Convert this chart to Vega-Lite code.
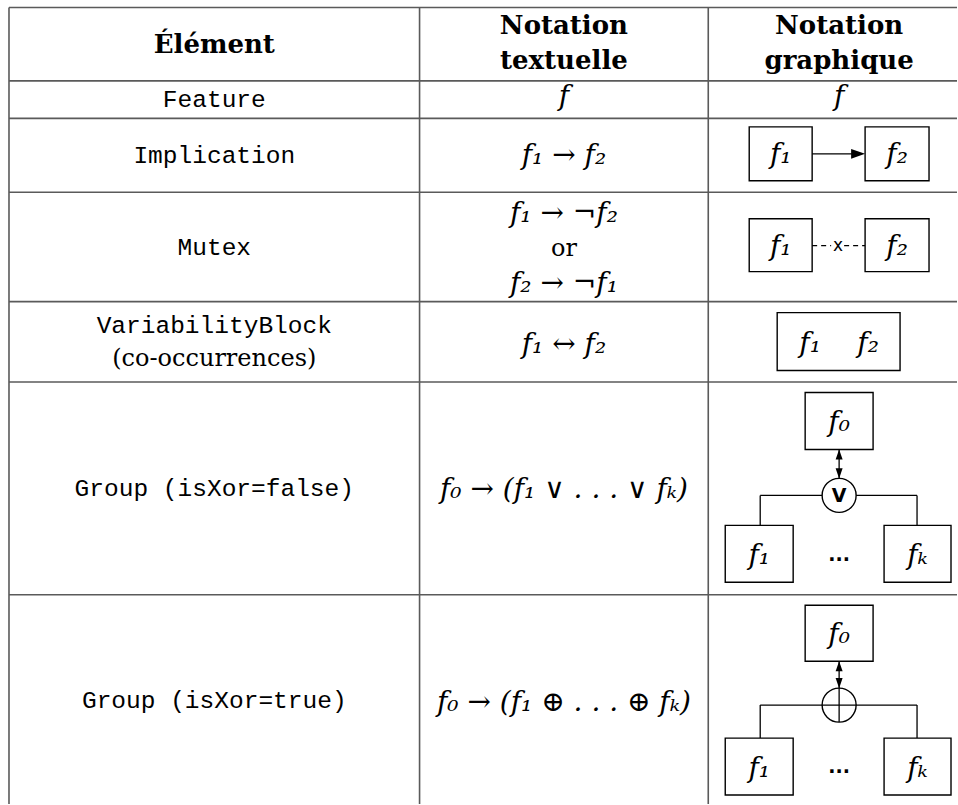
{
  "$schema": "https://vega.github.io/schema/vega-lite/v6.json",
  "width": 958,
  "height": 805,
  "autosize": {"type": "fit", "contains": "padding"},
  "padding": 0,
  "background": "white",
  "config": {"view": {"stroke": null}},
  "datasets": {
    "grid": [
      {"x": 9, "y": 7.5, "x2": 958, "y2": 7.5},
      {"x": 9, "y": 81, "x2": 958, "y2": 81},
      {"x": 9, "y": 118.5, "x2": 958, "y2": 118.5},
      {"x": 9, "y": 192.5, "x2": 958, "y2": 192.5},
      {"x": 9, "y": 302, "x2": 958, "y2": 302},
      {"x": 9, "y": 382.5, "x2": 958, "y2": 382.5},
      {"x": 9, "y": 595.5, "x2": 958, "y2": 595.5},
      {"x": 9, "y": 7.5, "x2": 9, "y2": 805},
      {"x": 420, "y": 7.5, "x2": 420, "y2": 805},
      {"x": 709, "y": 7.5, "x2": 709, "y2": 805}
    ],
    "boxes": [
      {"x": 750, "x2": 813, "y": 127, "y2": 181},
      {"x": 866, "x2": 930, "y": 127, "y2": 181},
      {"x": 750, "x2": 813, "y": 219, "y2": 272},
      {"x": 866, "x2": 930, "y": 219, "y2": 272},
      {"x": 778, "x2": 901, "y": 313, "y2": 371},
      {"x": 806, "x2": 874, "y": 393, "y2": 450},
      {"x": 726, "x2": 794, "y": 526, "y2": 583},
      {"x": 885, "x2": 952, "y": 526, "y2": 583},
      {"x": 806, "x2": 874, "y": 606, "y2": 662},
      {"x": 726, "x2": 794, "y": 739, "y2": 796},
      {"x": 885, "x2": 952, "y": 739, "y2": 796}
    ],
    "links": [
      {"x": 813, "y": 154, "x2": 853, "y2": 154, "style": "solid"},
      {"x": 813, "y": 246, "x2": 832, "y2": 246, "style": "dashed"},
      {"x": 845, "y": 246, "x2": 866, "y2": 246, "style": "dashed"},
      {"x": 840, "y": 450, "x2": 840, "y2": 479, "style": "solid"},
      {"x": 761, "y": 496, "x2": 823, "y2": 496, "style": "solid"},
      {"x": 857, "y": 496, "x2": 918, "y2": 496, "style": "solid"},
      {"x": 761, "y": 496, "x2": 761, "y2": 526, "style": "solid"},
      {"x": 918, "y": 496, "x2": 918, "y2": 526, "style": "solid"},
      {"x": 840, "y": 662, "x2": 840, "y2": 723, "style": "solid"},
      {"x": 761, "y": 706, "x2": 918, "y2": 706, "style": "solid"},
      {"x": 761, "y": 706, "x2": 761, "y2": 739, "style": "solid"},
      {"x": 918, "y": 706, "x2": 918, "y2": 739, "style": "solid"}
    ],
    "circles": [
      {"x": 840, "y": 496},
      {"x": 840, "y": 706}
    ],
    "arrows": [
      {"x": 859, "y": 154, "dir": "right"},
      {"x": 840, "y": 455, "dir": "up"},
      {"x": 840, "y": 474, "dir": "down"},
      {"x": 840, "y": 667, "dir": "up"},
      {"x": 840, "y": 684, "dir": "down"}
    ],
    "header": [
      {"x": 214.5, "y": 53, "text": "Élément"},
      {"x": 564.5, "y": 34, "text": "Notation"},
      {"x": 564.5, "y": 69, "text": "textuelle"},
      {"x": 840, "y": 34, "text": "Notation"},
      {"x": 840, "y": 69, "text": "graphique"}
    ],
    "tt": [
      {"x": 214.5, "y": 107, "text": "Feature"},
      {"x": 214.5, "y": 163, "text": "Implication"},
      {"x": 214.5, "y": 255, "text": "Mutex"},
      {"x": 214.5, "y": 333, "text": "VariabilityBlock"},
      {"x": 214.5, "y": 497, "text": "Group (isXor=false)"},
      {"x": 214.5, "y": 709, "text": "Group (isXor=true)"}
    ],
    "roman": [
      {"x": 214.5, "y": 366, "text": "(co-occurrences)"},
      {"x": 564.5, "y": 256, "text": "or"}
    ],
    "math": [
      {"x": 564.5, "y": 105, "text": "f"},
      {"x": 840, "y": 105, "text": "f"},
      {"x": 564.5, "y": 164, "text": "f₁ → f₂"},
      {"x": 564.5, "y": 222, "text": "f₁ → ¬f₂"},
      {"x": 564.5, "y": 292, "text": "f₂ → ¬f₁"},
      {"x": 564.5, "y": 353, "text": "f₁ ↔ f₂"},
      {"x": 564.5, "y": 499, "text": "f₀ → (f₁ ∨ . . . ∨ fₖ)"},
      {"x": 564.5, "y": 712, "text": "f₀ → (f₁ ⊕ . . . ⊕ fₖ)"}
    ],
    "boxlabels": [
      {"x": 781.5, "y": 163, "text": "f₁"},
      {"x": 898, "y": 163, "text": "f₂"},
      {"x": 781.5, "y": 255, "text": "f₁"},
      {"x": 898, "y": 255, "text": "f₂"},
      {"x": 811, "y": 352, "text": "f₁"},
      {"x": 869, "y": 352, "text": "f₂"},
      {"x": 840, "y": 432, "text": "f₀"},
      {"x": 760, "y": 565, "text": "f₁"},
      {"x": 918.5, "y": 565, "text": "fₖ"},
      {"x": 840, "y": 644, "text": "f₀"},
      {"x": 760, "y": 778, "text": "f₁"},
      {"x": 918.5, "y": 778, "text": "fₖ"}
    ],
    "symbols": [
      {"x": 839, "y": 246, "text": "x", "kind": "cross"},
      {"x": 840, "y": 497, "text": "V", "kind": "or"},
      {"x": 840, "y": 556, "text": "...", "kind": "dots"},
      {"x": 840, "y": 768, "text": "...", "kind": "dots"}
    ]
  },
  "encoding": {
    "x": {"field": "x", "type": "quantitative", "scale": {"domain": [0, 958], "nice": false, "zero": false}, "axis": null},
    "y": {"field": "y", "type": "quantitative", "scale": {"domain": [0, 805], "nice": false, "zero": false, "reverse": true}, "axis": null}
  },
  "layer": [
    {
      "data": {"name": "grid"},
      "mark": {"type": "rule", "color": "#5a5a5a", "strokeWidth": 1.6},
      "encoding": {"x2": {"field": "x2"}, "y2": {"field": "y2"}}
    },
    {
      "data": {"name": "boxes"},
      "mark": {"type": "rect", "fill": "white", "stroke": "black", "strokeWidth": 1.4},
      "encoding": {"x2": {"field": "x2"}, "y2": {"field": "y2"}}
    },
    {
      "data": {"name": "links"},
      "mark": {"type": "rule", "color": "black", "strokeWidth": 1.3},
      "encoding": {
        "x2": {"field": "x2"},
        "y2": {"field": "y2"},
        "strokeDash": {"field": "style", "type": "nominal", "scale": {"domain": ["solid", "dashed"], "range": [[1, 0], [5, 4]]}, "legend": null}
      }
    },
    {
      "data": {"name": "circles"},
      "mark": {"type": "point", "shape": "circle", "filled": false, "stroke": "black", "strokeWidth": 1.4, "size": 1156, "opacity": 1},
      "encoding": {}
    },
    {
      "data": {"name": "arrows"},
      "mark": {"type": "point", "filled": true, "color": "black", "size": 196, "opacity": 1},
      "encoding": {
        "shape": {"field": "dir", "type": "nominal", "scale": {"domain": ["right", "up", "down"], "range": ["M1,0L-1,-0.7L-1,0.7Z", "M0,-0.72L-0.5,0.72L0.5,0.72Z", "M0,0.72L-0.5,-0.72L0.5,-0.72Z"]}, "legend": null}
      }
    },
    {
      "data": {"name": "header"},
      "mark": {"type": "text", "font": "DejaVu Serif", "fontWeight": "bold", "fontSize": 26, "align": "center", "baseline": "alphabetic", "color": "black"},
      "encoding": {"text": {"field": "text"}}
    },
    {
      "data": {"name": "tt"},
      "mark": {"type": "text", "font": "Liberation Mono", "fontSize": 24.5, "align": "center", "baseline": "alphabetic", "color": "black"},
      "encoding": {"text": {"field": "text"}}
    },
    {
      "data": {"name": "roman"},
      "mark": {"type": "text", "font": "DejaVu Serif", "fontSize": 24, "align": "center", "baseline": "alphabetic", "color": "black"},
      "encoding": {"text": {"field": "text"}}
    },
    {
      "data": {"name": "math"},
      "mark": {"type": "text", "font": "DejaVu Serif", "fontStyle": "italic", "fontSize": 28, "align": "center", "baseline": "alphabetic", "color": "black"},
      "encoding": {"text": {"field": "text"}}
    },
    {
      "data": {"name": "boxlabels"},
      "mark": {"type": "text", "font": "DejaVu Serif", "fontStyle": "italic", "fontSize": 28, "align": "center", "baseline": "alphabetic", "color": "black"},
      "encoding": {"text": {"field": "text"}}
    },
    {
      "data": {"name": "symbols"},
      "transform": [{"filter": "datum.kind !== 'cross'"}],
      "mark": {"type": "text", "font": "DejaVu Sans", "fontWeight": "bold", "fontSize": 19, "align": "center", "baseline": "middle", "color": "black"},
      "encoding": {"text": {"field": "text"}}
    },
    {
      "data": {"name": "symbols"},
      "transform": [{"filter": "datum.kind === 'cross'"}],
      "mark": {"type": "text", "font": "DejaVu Sans", "fontSize": 17, "align": "center", "baseline": "middle", "color": "black"},
      "encoding": {"text": {"field": "text"}}
    }
  ]
}
